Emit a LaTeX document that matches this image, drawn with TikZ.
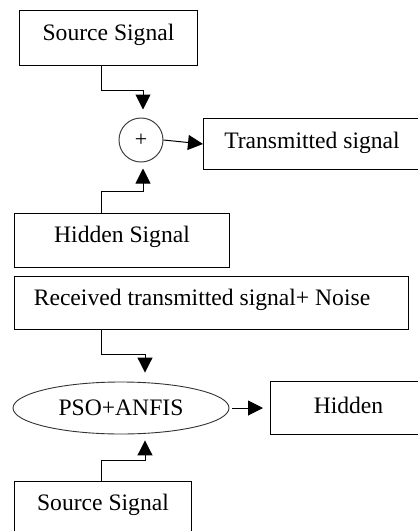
\documentclass[tikz,border=0pt]{standalone}
\usepackage{fontspec}
\setmainfont{Liberation Serif}
\usepackage{tikz}
\usetikzlibrary{shapes.geometric, arrows.meta}

\begin{document}
\begin{tikzpicture}[
        x=1pt, y=-1pt,
        font=\fontsize{23.6}{28}\selectfont,
        block/.style={rectangle, draw, line width=1pt, inner sep=0pt, text centered, anchor=north west},
        adder/.style={circle, draw=black!75, line width=1pt, minimum size=44pt, inner sep=0pt},
        model/.style={ellipse, draw=black!80, line width=0.9pt, minimum width=216pt, minimum height=52pt, inner sep=0pt},
        line/.style={draw, line width=1pt, -{Triangle[length=15pt, width=15pt]}}
    ]
    \useasboundingbox (0,0) rectangle (418,531);
    \clip (0,0) rectangle (418,531);

    % Nodes
    \node [block, minimum width=178pt, text height=30pt, text depth=25pt] (src) at (19,10) {Source Signal};
    \node [adder] (sum) at (141,140) {\fontsize{22}{24}\selectfont +};
    \node [block, minimum width=217pt, text height=30pt, text depth=21pt] (tx) at (203,118) {Transmitted signal};
    \node [block, minimum width=215pt, text height=29pt, text depth=25pt] (hid) at (14,213) {Hidden Signal};
    \node [block, minimum width=394pt, text height=29pt, text depth=24pt] (rx) at (14,276) {Received transmitted signal+ Noise\hspace*{19pt}};
    \node [model] (pso) at (121,408) {PSO+ANFIS};
    \node [block, minimum width=156pt, text height=32pt, text depth=21pt] (out) at (270,381) {Hidden};
    \node [block, minimum width=177pt, text height=29pt, text depth=26pt] (src2) at (14,481) {Source Signal};

    % Edges
    \path [line] ([xshift=-7pt]src.south) -- ++(0,24) -| ([xshift=2pt, yshift=8pt]sum.north);
    \path [line] ([xshift=-20.5pt]hid.north) -- ++(0,-22) -| ([xshift=2pt, yshift=-6pt]sum.south);
    \path [line] (sum.east) -- (tx.west);
    \path [line] ([xshift=-110pt]rx.south) -- ++(0,24) -| ([xshift=24pt, yshift=9pt]pso.north);
    \path [line] ([xshift=-1.5pt]src2.north) -- ++(0,-21) -| ([xshift=24pt, yshift=-6pt]pso.south);
    \path [line] ([xshift=3pt]pso.east) -- ([xshift=-7pt]out.west);

\end{tikzpicture}
\end{document}
